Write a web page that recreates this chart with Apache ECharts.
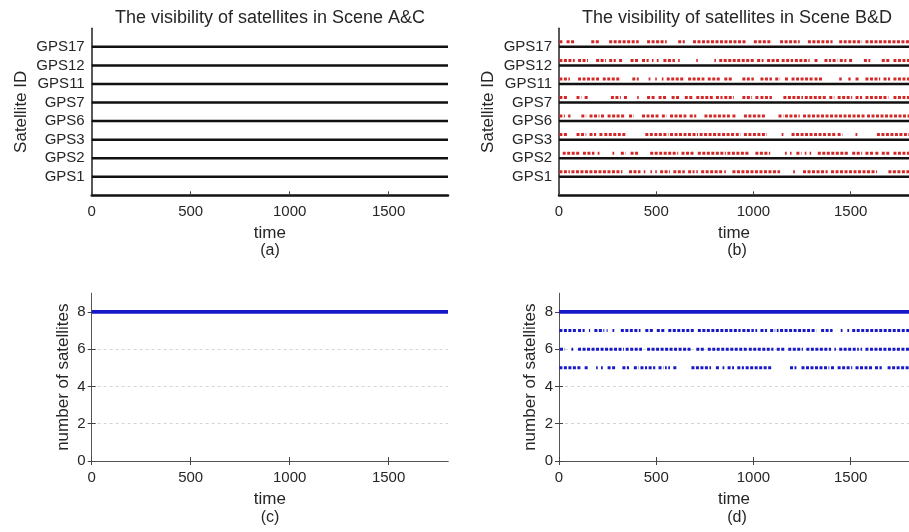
<!DOCTYPE html>
<html>
<head>
<meta charset="utf-8">
<script src="https://cdn.jsdelivr.net/npm/echarts@6/dist/echarts.min.js"></script>
<style>html,body{margin:0;padding:0;background:#fff}#c{width:909px;height:532px}</style>
</head>
<body>
<div id="c"></div>
<script>
// ---- data ----
const satellites = ['GPS1', 'GPS2', 'GPS3', 'GPS6', 'GPS7', 'GPS11', 'GPS12', 'GPS17'];
const timeTicks = [0, 500, 1000, 1500];
const countTicks = [0, 2, 4, 6, 8];
const timeMax = 1800;
const fullSpan = [[0, 1800]];

// Scene B&D: visible intervals (time)
const gps1BD = [[2,56],[64,326],[360,419],[436,444],[470,478],[495,503],[520,571],[588,647],[664,697],[706,714],[731,841],[850,858],[892,1137],[1204,1213],[1255,1382],[1399,1635],[1694,1800]];
const gps2BD = [[19,106],[123,182],[199,208],[275,284],[318,343],[368,410],[469,613],[630,697],[714,858],[866,976],[1010,1086],[1162,1171],[1188,1196],[1221,1247],[1264,1272],[1289,1297],[1331,1492],[1508,1559],[1576,1618],[1627,1643],[1660,1703],[1720,1800]];
const gps3BD = [[2,47],[90,140],[157,191],[208,225],[233,343],[444,529],[537,563],[571,715],[723,900],[909,934],[951,1069],[1145,1154],[1196,1373],[1382,1424],[1433,1458],[1525,1534],[1635,1800]];
const gps6BD = [[2,30],[47,59],[115,140],[157,208],[216,233],[250,343],[360,385],[427,512],[529,554],[571,655],[672,706],[748,884],[892,909],[951,1061],[1129,1154],[1162,1238],[1255,1576],[1584,1800]];
const gps7BD = [[2,47],[90,115],[132,149],[267,318],[334,351],[402,410],[453,495],[512,554],[579,621],[647,689],[706,799],[807,841],[850,900],[943,993],[1010,1027],[1036,1095],[1154,1255],[1264,1373],[1390,1416],[1433,1508],[1525,1559],[1576,1694],[1720,1800]];
const gps11BD = [[2,56],[98,208],[225,318],[377,410],[461,470],[495,503],[529,537],[554,647],[664,748],[765,833],[850,892],[943,1002],[1036,1095],[1112,1137],[1162,1180],[1196,1306],[1314,1356],[1441,1454],[1488,1500],[1525,1542],[1576,1652],[1669,1703],[1720,1800]];
const gps12BD = [[2,81],[98,149],[191,242],[258,292],[309,326],[368,410],[427,461],[478,486],[503,512],[537,596],[613,621],[706,714],[799,807],[824,1002],[1019,1052],[1070,1137],[1145,1204],[1213,1289],[1314,1331],[1365,1399],[1407,1432],[1444,1478],[1492,1509],[1568,1601],[1660,1703],[1720,1800]];
const gps17BD = [[2,19],[39,81],[166,208],[258,410],[453,554],[613,647],[689,960],[1002,1095],[1137,1238],[1280,1407],[1441,1559],[1576,1800]];

// number of satellites: scene A&C
const countAC8 = [[0, 1800]];
// number of satellites: scene B&D, intervals at each count level
const countBD8 = [[0, 1800]];
const countBD7 = [[2,90],[98,132],[154,160],[182,233],[245,250],[275,284],[318,419],[444,486],[503,546],[562,697],[714,934],[943,1002],[1010,1019],[1036,1070],[1086,1112],[1120,1129],[1137,1323],[1348,1407],[1449,1458],[1483,1492],[1508,1800]];
const countBD6 = [[5,30],[64,73],[98,334],[343,427],[453,680],[706,748],[765,968],[976,1103],[1120,1162],[1179,1255],[1272,1399],[1416,1424],[1441,1542],[1551,1559],[1576,1800]];
const countBD5 = [[2,115],[132,149],[191,199],[216,225],[250,292],[326,360],[385,410],[419,453],[461,495],[512,537],[545,554],[562,571],[588,605],[681,782],[807,825],[841,850],[867,900],[917,951],[960,1095],[1188,1221],[1247,1390],[1399,1416],[1433,1508],[1525,1610],[1625,1660],[1690,1800]];

// ---- build ----
const sceneBD = [gps1BD, gps2BD, gps3BD, gps6BD, gps7BD, gps11BD, gps12BD, gps17BD];
const RED_OFFSET = 0.27;
function segData(segs, y) {
  const out = [];
  segs.forEach(([s, e]) => { out.push([s, y], [e, y], ['-', '-']); });
  return out;
}
const FONT = 'Liberation Sans, Arial, Helvetica, sans-serif';
const TXT = '#262626';
const BOX = '#555';
const plain = v => String(v);

const grids = [
  {left: 91.7, top: 28.3, width: 356.3, height: 167},
  {left: 559, top: 28.3, width: 355.3, height: 167},
  {left: 91.7, top: 293.3, width: 356.3, height: 167.7},
  {left: 559, top: 293.3, width: 355.3, height: 167.7}
];

function xAxisMain(gi, top) {
  return {
    type: 'value', gridIndex: gi, min: 0, max: timeMax, interval: 500,
    axisLine: top ? {show: true, lineStyle: {color: '#111', width: 2.5}} : {show: true, lineStyle: {color: BOX, width: 1}},
    axisTick: {inside: true, length: 4, lineStyle: {color: '#444'}, customValues: timeTicks},
    axisLabel: {margin: 9, fontSize: 15, color: TXT, fontFamily: FONT, customValues: timeTicks, formatter: plain},
    splitLine: {show: false},
    name: 'time', nameLocation: 'middle', nameGap: 30,
    nameTextStyle: {fontSize: 17, color: TXT, fontFamily: FONT}
  };
}
function xAxisTop(gi) {
  return {type: 'value', gridIndex: gi, position: 'top', min: 0, max: timeMax, interval: 500,
    axisLine: {show: true, lineStyle: {color: BOX, width: 1}},
    axisTick: {inside: true, length: 4, lineStyle: {color: '#444'}, customValues: timeTicks},
    axisLabel: {show: false}, splitLine: {show: false}};
}
function yAxisSat(gi) {
  return {
    type: 'value', gridIndex: gi, min: 0, max: 9, interval: 1,
    axisLine: {show: true, lineStyle: {color: '#222', width: 1.5}},
    axisTick: {show: false}, splitLine: {show: false},
    axisLabel: {fontSize: 15, color: TXT, fontFamily: FONT, margin: 7,
      formatter: v => (v >= 1 && v <= satellites.length) ? satellites[v - 1] : ''},
    name: 'Satellite ID', nameLocation: 'middle', nameGap: 62,
    nameTextStyle: {fontSize: 17, color: TXT, fontFamily: FONT}
  };
}
function yAxisCount(gi) {
  return {
    type: 'value', gridIndex: gi, min: 0, max: 9, interval: 2,
    axisLine: {show: true, lineStyle: {color: BOX, width: 1}},
    axisTick: {inside: true, length: 4, lineStyle: {color: '#444'}, customValues: countTicks},
    splitLine: {show: true, showMinLine: false, showMaxLine: false, lineStyle: {color: '#d4d4d4', type: [3, 3], width: 1}},
    axisLabel: {fontSize: 15, color: TXT, fontFamily: FONT, margin: 6, customValues: countTicks, formatter: plain},
    name: 'number of satellites', nameLocation: 'middle', nameGap: 20,
    nameTextStyle: {fontSize: 17, color: TXT, fontFamily: FONT}
  };
}
function yAxisRight(gi) {
  return {type: 'value', gridIndex: gi, position: 'right', min: 0, max: 9, interval: 2,
    axisLine: {show: true, lineStyle: {color: BOX, width: 1}},
    axisTick: {inside: true, length: 4, lineStyle: {color: '#444'}, customValues: countTicks},
    axisLabel: {show: false}, splitLine: {show: false}};
}

function lineSeries(xi, yi, data, color, width, type, z) {
  return {type: 'line', xAxisIndex: xi, yAxisIndex: yi, data: data, showSymbol: false, symbol: 'none',
    connectNulls: false, silent: true, z: z || 2,
    lineStyle: {color: color, width: width, type: type || 'solid', cap: 'butt'}};
}

const BLACK = '#111';
const RED = '#d42828';
const BLUE = '#1818c8';
const DOT = [3, 1.5];

const series = [];
// (a)
series.push(lineSeries(0, 0, satellites.flatMap((s, i) => segData(fullSpan, i + 1)), BLACK, 2.5));
// (b)
series.push(lineSeries(1, 1, satellites.flatMap((s, i) => segData(fullSpan, i + 1)), BLACK, 2.5));
series.push(lineSeries(1, 1, sceneBD.flatMap((segs, i) => segData(segs, i + 1 + RED_OFFSET)), RED, 3, DOT, 3));
// (c)
series.push(lineSeries(2, 2, segData(countAC8, 8), BLUE, 3.8));
// (d)
series.push(lineSeries(3, 3, segData(countBD8, 8), BLUE, 3.8));
series.push(lineSeries(3, 3, segData(countBD7, 7), BLUE, 3, DOT));
series.push(lineSeries(3, 3, segData(countBD6, 6), BLUE, 3, DOT));
series.push(lineSeries(3, 3, segData(countBD5, 5), BLUE, 3, DOT));

function txt(x, y, s, size) {
  return {type: 'text', x: x, y: y, style: {text: s, fontSize: size, fontFamily: FONT, fill: TXT,
    align: 'center', verticalAlign: 'middle'}};
}

const chart = echarts.init(document.getElementById('c'), null, {renderer: 'canvas'});
chart.setOption({
  animation: false,
  backgroundColor: '#fff',
  grid: grids,
  xAxis: [xAxisMain(0, true), xAxisMain(1, true), xAxisMain(2, false), xAxisMain(3, false), xAxisTop(2), xAxisTop(3)],
  yAxis: [yAxisSat(0), yAxisSat(1), yAxisCount(2), yAxisCount(3), yAxisRight(2), yAxisRight(3)],
  series: series,
  graphic: [
    txt(270, 18, 'The visibility of satellites in Scene A&C', 18),
    txt(737, 18, 'The visibility of satellites in Scene B&D', 18),
    txt(270, 251, '(a)', 16),
    txt(737, 251, '(b)', 16),
    txt(270, 518, '(c)', 16),
    txt(737, 518, '(d)', 16)
  ]
});
</script>
</body>
</html>
